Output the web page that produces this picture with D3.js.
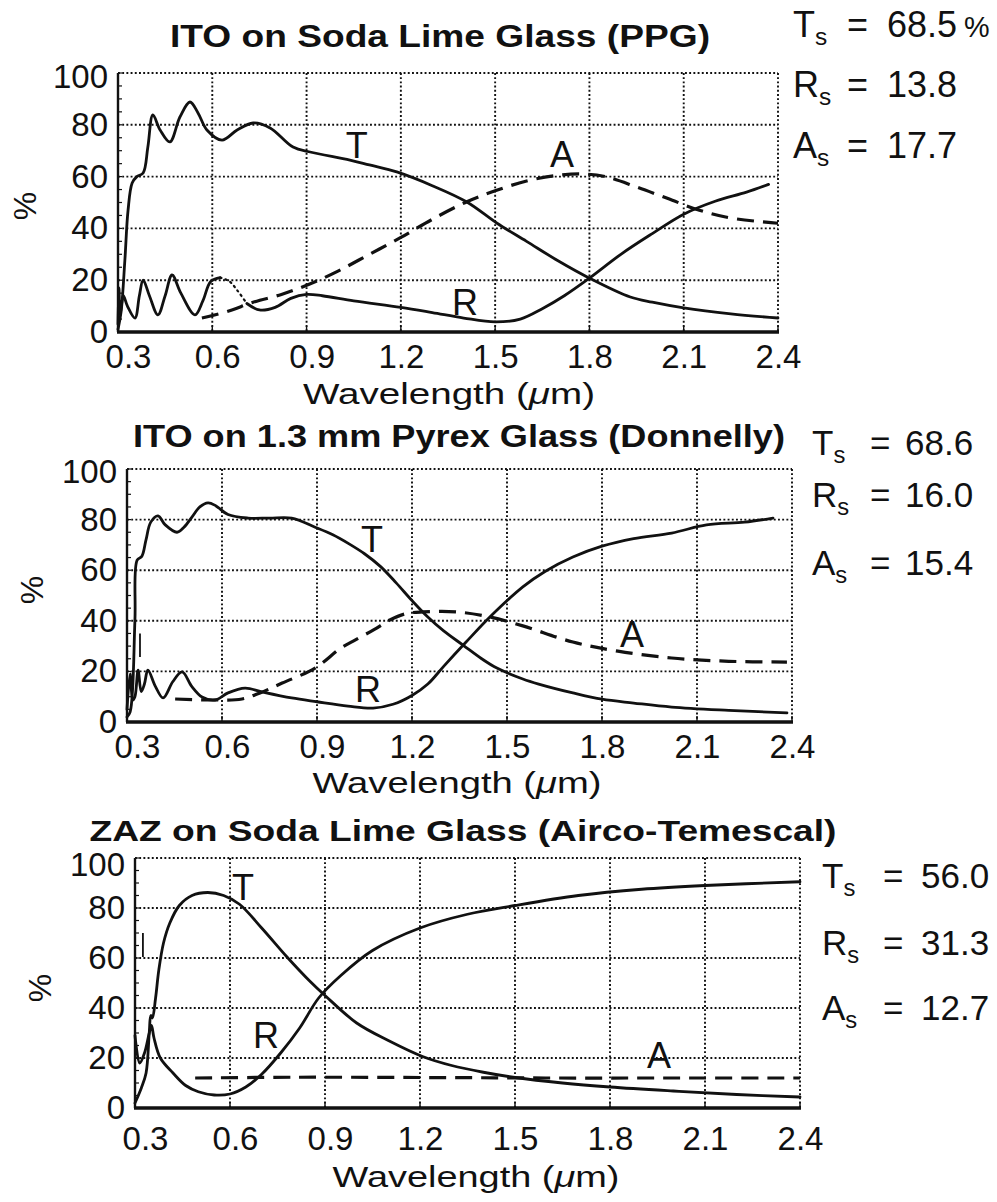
<!DOCTYPE html>
<html>
<head>
<meta charset="utf-8">
<script src="https://cdn.jsdelivr.net/npm/d3@7"></script>
<style>
  body { margin: 0; background: #fff; }
  svg text { font-family: "Liberation Sans", Arial, Helvetica, sans-serif; fill: #111; }
</style>
</head>
<body>
<svg id="chart" width="997" height="1202"></svg>
<script>
// ---- tick values and titles ----
const xTicks = [0.3, 0.6, 0.9, 1.2, 1.5, 1.8, 2.1, 2.4];
const yTicks = [0, 20, 40, 60, 80, 100];
const titles = [
  "ITO on Soda Lime Glass (PPG)",
  "ITO on 1.3 mm Pyrex Glass (Donnelly)",
  "ZAZ on Soda Lime Glass (Airco-Temescal)"
];

// ---- spectra: [wavelength (µm), percent] ----
const ppgT = [[0.300,1],[0.310,8],[0.322,28],[0.332,47],[0.345,57.5],[0.36,60],[0.38,61.4],[0.395,71.4],[0.411,83.8],[0.434,78],[0.465,73.4],[0.497,83],[0.529,88.8],[0.555,84.5],[0.583,78],[0.631,74.1],[0.679,78],[0.73,80.7],[0.784,78.8],[0.857,71.4],[0.911,69.5],[1.038,66.4],[1.1,64.5],[1.187,61.8],[1.3,56.5],[1.41,50.2],[1.506,42],[1.6,35],[1.7,27.5],[1.8,20.8],[1.93,13.5],[2.0,11.5],[2.1,9.3],[2.25,7],[2.4,5.4]];
const ppgR = [[0.300,3],[0.303,17],[0.307,7],[0.317,14],[0.33,10],[0.354,5.4],[0.368,14],[0.38,20],[0.40,14],[0.427,6.6],[0.45,14],[0.472,22],[0.50,15],[0.545,6.6],[0.57,12],[0.595,19.5],[0.625,21],[0.655,19.5],[0.68,16],[0.71,11],[0.75,8.5],[0.8,9.5],[0.85,13],[0.9,14.5],[0.95,14],[1.05,12],[1.2,9.5],[1.3,7.5],[1.4,5.4],[1.5,3.9],[1.58,5],[1.65,9],[1.72,14],[1.8,20.8],[1.9,30],[2.0,38],[2.1,45.5],[2.2,50.5],[2.3,54],[2.37,57]];
const ppgA = [[0.567,5.4],[0.65,8],[0.73,11.5],[0.82,14.5],[0.91,18.5],[1.0,23.5],[1.1,30],[1.2,36.5],[1.3,43.5],[1.41,50.3],[1.5,54.5],[1.6,58.3],[1.7,60.5],[1.78,61],[1.85,60],[1.95,56],[2.05,51.5],[2.15,47],[2.25,44],[2.4,42]];

const donT = [[0.300,2],[0.31,4],[0.325,40],[0.332,64],[0.347,65.5],[0.36,72],[0.375,79],[0.398,81.5],[0.42,78],[0.458,75],[0.48,77],[0.505,81],[0.53,85],[0.556,86.6],[0.58,85.5],[0.619,82],[0.682,80.6],[0.75,80.6],[0.82,80.6],[0.894,77],[0.95,74],[1.0,70.5],[1.05,66.5],[1.1,61.5],[1.15,55],[1.2,48],[1.25,41.5],[1.3,36],[1.361,30.4],[1.42,25],[1.468,21.3],[1.55,17],[1.6,15],[1.708,11.5],[1.8,9],[1.9,7.5],[2.02,5.9],[2.2,4.6],[2.384,3.6]];
const donR = [[0.300,5],[0.31,19],[0.318,8.7],[0.325,10],[0.335,20.5],[0.345,12],[0.355,15],[0.366,20.5],[0.39,14],[0.414,9.5],[0.445,16],[0.474,19.8],[0.505,14],[0.537,9.9],[0.578,8.7],[0.619,11.5],[0.673,13.4],[0.726,11.9],[0.82,9.5],[0.9,8],[0.998,6.3],[1.077,5.5],[1.14,7],[1.2,10.5],[1.25,15],[1.3,22],[1.37,31.5],[1.446,41.5],[1.55,53.4],[1.62,59.5],[1.708,65.2],[1.8,69.5],[1.9,72.5],[2.02,74.7],[2.13,77.9],[2.25,79],[2.34,80.6]];
const donA = [[0.452,9.1],[0.578,8.7],[0.663,9.1],[0.72,11.5],[0.79,15.4],[0.894,21.3],[0.973,29],[1.02,32.4],[1.08,36.5],[1.13,40.3],[1.18,42.8],[1.235,43.5],[1.342,43.5],[1.446,41.5],[1.55,38],[1.708,31.6],[1.85,28],[2.02,25.3],[2.2,24],[2.384,23.7]];

const zazT = [[0.300,2],[0.32,8],[0.335,14],[0.345,30],[0.35,37],[0.355,36],[0.365,44],[0.375,55],[0.39,66],[0.41,74],[0.44,81],[0.48,85],[0.53,86.2],[0.58,85],[0.63,81.5],[0.70,72],[0.78,60.4],[0.85,51],[0.9,45],[1.0,34],[1.1,27],[1.21,20.5],[1.3,17],[1.4,14.3],[1.5,12.2],[1.65,10],[1.8,8.4],[2.0,6.8],[2.2,5.4],[2.4,4.4]];
const zazR = [[0.300,29],[0.315,18],[0.33,22],[0.345,30],[0.352,33],[0.36,28],[0.38,20],[0.42,14],[0.46,9],[0.5,6.5],[0.55,5.2],[0.6,5.6],[0.65,8.4],[0.7,13.5],[0.76,22],[0.82,32],[0.88,44],[0.95,53],[1.05,63],[1.2,72],[1.35,77.5],[1.5,81],[1.7,85],[1.9,87.5],[2.1,89],[2.4,90.5]];
const zazA = [[0.49,12],[0.8,12.3],[1.2,12.2],[1.6,12],[2.0,12],[2.4,12]];

// short vertical marks near the short-wavelength edge: [wavelength, low %, high %]
const donMark = [0.341, 25.7, 35];
const zazMark = [0.325, 60.4, 70];

// solar-weighted values
const solarLetters = ["T", "R", "A"];
const ppgSolar = ["68.5", "13.8", "17.7"];
const donSolar = ["68.6", "16.0", "15.4"];
const zazSolar = ["56.0", "31.3", "12.7"];

// ---- layout of the three stacked panels ----
const layout = [
  { left: 118, right: 778, top: 73, bottom: 332,
    titleX: 440, titleY: 47, titleW: 540, titleSize: 32, topLabelShift: 4,
    xlabX: 449, xlabY: 404, xlabW: 292, xPad: 13,
    pctX: 25, pctY: 206,
    letterX: 793, eqX: 847, valX: 887, rowY: [37, 97, 158], valSize: 36, pctSuffix: true,
    labels: { T: [1.06, 67.2], R: [1.404, 6.6], A: [1.713, 63.7] } },
  { left: 127, right: 792, top: 469, bottom: 722,
    titleX: 459, titleY: 447, titleW: 652, titleSize: 31, topLabelShift: 3,
    xlabX: 457, xlabY: 793, xlabW: 289, xPad: 13,
    pctX: 32, pctY: 590,
    letterX: 812, eqX: 870, valX: 905, rowY: [455, 507, 575], valSize: 35, pctSuffix: false,
    labels: { T: [1.074, 67.2], R: [1.061, 7.9], A: [1.895, 29.6] } },
  { left: 135, right: 800, top: 858, bottom: 1108,
    titleX: 463, titleY: 841, titleW: 747, titleSize: 30, topLabelShift: 7,
    xlabX: 476, xlabY: 1187, xlabW: 287, xPad: 19,
    pctX: 40, pctY: 988,
    letterX: 822, eqX: 883, valX: 921, rowY: [888, 955, 1020], valSize: 35, pctSuffix: false,
    labels: { T: [0.641, 83.2], R: [0.714, 24], A: [1.955, 16] } }
];

const panels = [
  { title: titles[0], T: ppgT, R: ppgR, A: ppgA, solar: ppgSolar, mark: null, dottedR: [0.625, 0.71] },
  { title: titles[1], T: donT, R: donR, A: donA, solar: donSolar, mark: donMark, dottedR: null },
  { title: titles[2], T: zazT, R: zazR, A: zazA, solar: zazSolar, mark: zazMark, dottedR: null }
];

const svg = d3.select("#chart");
const ink = "#111";

panels.forEach((p, i) => {
  const L = layout[i];
  const g = svg.append("g");
  const x = d3.scaleLinear().domain([0.3, 2.4]).range([L.left, L.right]);
  const y = d3.scaleLinear().domain([0, 100]).range([L.bottom, L.top]);

  // dotted grid (also forms the top and right border)
  const gridStyle = sel => sel.attr("stroke", ink).attr("stroke-width", 1.9)
    .attr("stroke-dasharray", "1.9,2.3");
  g.append("g").selectAll("line").data(xTicks.filter(d => d > 0.3)).join("line")
    .attr("x1", d => x(d)).attr("x2", d => x(d))
    .attr("y1", y(100)).attr("y2", y(0))
    .call(gridStyle);
  g.append("g").selectAll("line").data(yTicks.filter(d => d > 0)).join("line")
    .attr("x1", x(0.3)).attr("x2", x(2.4))
    .attr("y1", d => y(d)).attr("y2", d => y(d))
    .call(gridStyle);

  // minor ticks on the left axis
  g.append("g").selectAll("line").data(d3.range(0, 101, 5)).join("line")
    .attr("x1", x(0.3)).attr("x2", x(0.3) + 4)
    .attr("y1", d => y(d)).attr("y2", d => y(d))
    .attr("stroke", ink).attr("stroke-width", 1.2);

  // solid left and bottom axis lines
  g.append("line").attr("x1", x(0.3)).attr("x2", x(0.3)).attr("y1", y(100)).attr("y2", y(0))
    .attr("stroke", ink).attr("stroke-width", 2.4);
  g.append("line").attr("x1", x(0.3) - 1).attr("x2", x(2.4) + 1).attr("y1", y(0)).attr("y2", y(0))
    .attr("stroke", ink).attr("stroke-width", 3.4);

  // axes: tick labels only
  const xAxis = d3.axisBottom(x).tickValues(xTicks).tickFormat(d3.format(".1f"))
    .tickSize(0).tickPadding(L.xPad);
  const gx = g.append("g").attr("transform", `translate(0,${L.bottom})`).call(xAxis);
  gx.select(".domain").remove();
  gx.selectAll("text").attr("font-size", 33).attr("fill", ink)
    .style("font-family", '"Liberation Sans", Arial, sans-serif')
    .attr("dx", d => d === 0.3 ? 10 : (d < 1 ? 5 : 0));
  // small upward ticks on the bottom axis
  g.append("g").selectAll("line").data(xTicks).join("line")
    .attr("x1", d => x(d)).attr("x2", d => x(d))
    .attr("y1", y(0)).attr("y2", y(0) - 6)
    .attr("stroke", ink).attr("stroke-width", 1.4);

  const yAxis = d3.axisLeft(y).tickValues(yTicks).tickSize(0).tickPadding(10);
  const gy = g.append("g").attr("transform", `translate(${L.left},0)`).call(yAxis);
  gy.select(".domain").remove();
  gy.selectAll("text").attr("font-size", 33).attr("fill", ink)
    .style("font-family", '"Liberation Sans", Arial, sans-serif')
    .attr("y", d => d === 100 ? L.topLabelShift : 0);

  // curves
  const line = d3.line().x(d => x(d[0])).y(d => y(d[1])).curve(d3.curveCatmullRom.alpha(0.5));
  const solid = (pts, dash) => g.append("path").attr("d", line(pts))
    .attr("fill", "none").attr("stroke", ink).attr("stroke-width", dash ? 2.2 : 2.8)
    .attr("stroke-linejoin", "round").attr("stroke-linecap", "round")
    .attr("stroke-dasharray", dash || null);

  solid(p.T);
  if (p.dottedR) {
    const [a, b] = p.dottedR;
    solid(p.R.filter(d => d[0] <= a));
    solid(p.R.filter(d => d[0] >= a && d[0] <= b), "1.5,4");
    solid(p.R.filter(d => d[0] >= b));
  } else {
    solid(p.R);
  }
  g.append("path").attr("d", line(p.A))
    .attr("fill", "none").attr("stroke", ink).attr("stroke-width", 3.2)
    .attr("stroke-dasharray", "17,9");

  if (p.mark) {
    g.append("line").attr("x1", x(p.mark[0])).attr("x2", x(p.mark[0]))
      .attr("y1", y(p.mark[1])).attr("y2", y(p.mark[2]))
      .attr("stroke", ink).attr("stroke-width", 1.8);
  }

  // curve letters
  Object.entries(L.labels).forEach(([k, pos]) => {
    g.append("text").attr("x", x(pos[0])).attr("y", y(pos[1]))
      .attr("text-anchor", "middle").attr("font-size", 36).text(k);
  });

  // title
  g.append("text").attr("x", L.titleX).attr("y", L.titleY)
    .attr("text-anchor", "middle").attr("font-size", L.titleSize).attr("font-weight", "bold")
    .attr("textLength", L.titleW).attr("lengthAdjust", "spacingAndGlyphs")
    .text(p.title);

  // x-axis label
  const xl = g.append("text").attr("x", L.xlabX).attr("y", L.xlabY)
    .attr("text-anchor", "middle").attr("font-size", 30)
    .attr("textLength", L.xlabW).attr("lengthAdjust", "spacingAndGlyphs");
  xl.append("tspan").text("Wavelength (");
  xl.append("tspan").attr("font-style", "italic").text("\u03bc");
  xl.append("tspan").text("m)");

  // y-axis label
  g.append("text").attr("transform", `translate(${L.pctX},${L.pctY}) rotate(-90)`)
    .attr("text-anchor", "middle").attr("dy", "0.35em").attr("font-size", 32).text("%");

  // solar-weighted values beside the panel
  solarLetters.forEach((letter, r) => {
    const t = g.append("text").attr("x", L.letterX).attr("y", L.rowY[r]).attr("font-size", L.valSize);
    t.append("tspan").text(letter);
    t.append("tspan").attr("dy", 8).attr("font-size", L.valSize * 0.68).text("s");
    g.append("text").attr("x", L.eqX).attr("y", L.rowY[r]).attr("font-size", L.valSize).text("=");
    const v = g.append("text").attr("x", L.valX).attr("y", L.rowY[r]).attr("font-size", L.valSize);
    v.append("tspan").text(p.solar[r]);
    if (L.pctSuffix && r === 0) v.append("tspan").attr("dx", 7).attr("font-size", L.valSize * 0.8).text("%");
  });
});
</script>
</body>
</html>
